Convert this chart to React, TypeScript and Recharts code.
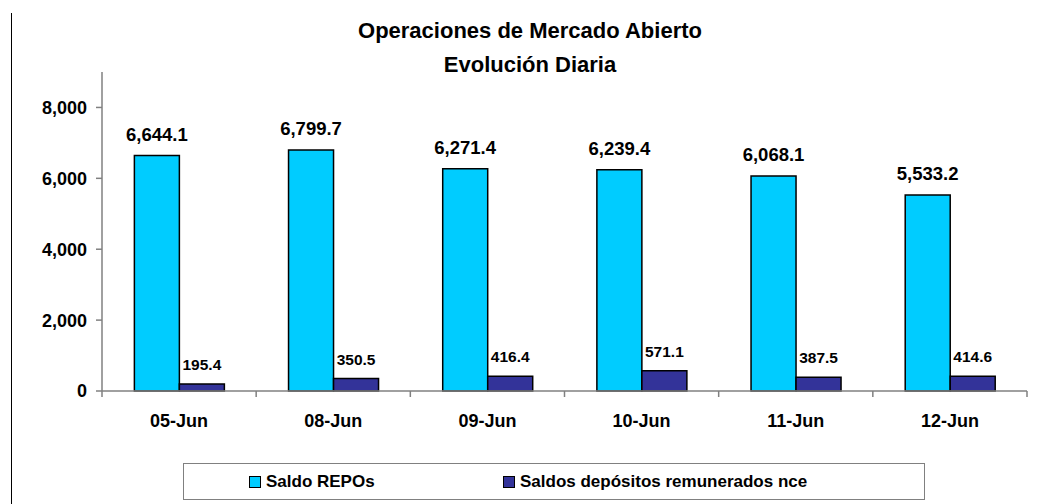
import React from "react";
import { BarChart, Bar, XAxis, YAxis, LabelList } from "recharts";

const categories = ["05-Jun", "08-Jun", "09-Jun", "10-Jun", "11-Jun", "12-Jun"];
const repos = [6644.1, 6799.7, 6271.4, 6239.4, 6068.1, 5533.2];
const depositos = [195.4, 350.5, 416.4, 571.1, 387.5, 414.6];
const yTicks = [0, 2000, 4000, 6000, 8000];
const seriesNames = ["Saldo REPOs", "Saldos depósitos remunerados nce"];
const titleLines = ["Operaciones de Mercado Abierto", "Evolución Diaria"];

const data = categories.map((c, i) => ({ cat: c, repos: repos[i], dep: depositos[i] }));

const FONT = "'Liberation Sans', Arial, Helvetica, sans-serif";
const AXIS_GRAY = "#808080";
const CYAN = "#00CCFF";
const NAVY = "#333399";

const fmt1 = (v: any) =>
  Number(v).toLocaleString("en-US", { minimumFractionDigits: 1, maximumFractionDigits: 1 });
const fmt0 = (v: any) => Number(v).toLocaleString("en-US");

const TICK_SIZE = 6;
const TICK_MARGIN = 2;

const XTick = (props: any) => {
  const { x, y, payload, index, width } = props;
  const band = payload && payload.offset ? payload.offset * 2 : width / categories.length;
  const axisY = y - TICK_SIZE - TICK_MARGIN;
  return (
    <g>
      <line x1={x - band / 2} x2={x - band / 2} y1={axisY} y2={axisY + TICK_SIZE} stroke={AXIS_GRAY} strokeWidth={1.5} />
      {index === categories.length - 1 && (
        <line x1={x + band / 2} x2={x + band / 2} y1={axisY} y2={axisY + TICK_SIZE} stroke={AXIS_GRAY} strokeWidth={1.5} />
      )}
      <text x={x} y={y} dy={27.5} textAnchor="middle" fontFamily={FONT} fontWeight="bold" fontSize={18} fill="#000">
        {payload.value}
      </text>
    </g>
  );
};

export default function App() {
  return (
    <div style={{ position: "absolute", left: 0, top: 0, width: 1038, height: 504, background: "#fff", fontFamily: FONT }}>
      <div style={{ position: "absolute", left: 11, top: 13, width: 0, height: 491, borderLeft: "1.5px solid #000" }} />
      {titleLines.map((t, i) => (
        <div
          key={t}
          style={{
            position: "absolute",
            left: 0,
            top: i === 0 ? 20.4 : 54,
            width: 1060,
            textAlign: "center",
            fontWeight: "bold",
            fontSize: 22,
            lineHeight: "22px",
            whiteSpace: "nowrap",
          }}
        >
          {t}
        </div>
      ))}
      <BarChart
        width={1038}
        height={504}
        data={data}
        margin={{ top: 72, right: 11, left: 12, bottom: 83 }}
        barCategoryGap="21%"
        barGap={0}
      >
        <XAxis
          dataKey="cat"
          height={30}
          tick={<XTick />}
          tickLine={false}
          tickSize={TICK_SIZE}
          tickMargin={TICK_MARGIN}
          axisLine={{ stroke: AXIS_GRAY, strokeWidth: 1.5 }}
          interval={0}
        />
        <YAxis
          width={90}
          domain={[0, 9000]}
          ticks={yTicks}
          tickFormatter={fmt0}
          tickSize={6}
          tickMargin={9}
          tickLine={{ stroke: AXIS_GRAY, strokeWidth: 1.5 }}
          axisLine={{ stroke: AXIS_GRAY, strokeWidth: 1.5 }}
          tick={{ fontFamily: FONT, fontWeight: "bold", fontSize: 18, fill: "#000" }}
        />
        <Bar dataKey="repos" name={seriesNames[0]} fill={CYAN} stroke="#000" strokeWidth={1.5} isAnimationActive={false}>
          <LabelList dataKey="repos" position="top" offset={15} formatter={fmt1} style={{ fontFamily: FONT, fontWeight: "bold", fontSize: 18.5, fill: "#000" }} />
        </Bar>
        <Bar dataKey="dep" name={seriesNames[1]} fill={NAVY} stroke="#000" strokeWidth={1.5} isAnimationActive={false}>
          <LabelList dataKey="dep" position="top" offset={14} formatter={fmt1} style={{ fontFamily: FONT, fontWeight: "bold", fontSize: 15.5, fill: "#000" }} />
        </Bar>
      </BarChart>
      <div
        style={{
          position: "absolute",
          left: 183,
          top: 463,
          width: 740,
          height: 35,
          border: "1.5px solid " + AXIS_GRAY,
          fontWeight: "bold",
          fontSize: 17,
        }}
      >
        {seriesNames.map((n, i) => (
          <div
            key={n}
            style={{ position: "absolute", left: i === 0 ? 65 : 319, top: 0, height: 35, display: "flex", alignItems: "center", whiteSpace: "nowrap" }}
          >
            <span style={{ display: "inline-block", width: 10, height: 10, background: i === 0 ? CYAN : NAVY, border: "1.5px solid #000", marginRight: 5 }} />
            <span>{n}</span>
          </div>
        ))}
      </div>
    </div>
  );
}
